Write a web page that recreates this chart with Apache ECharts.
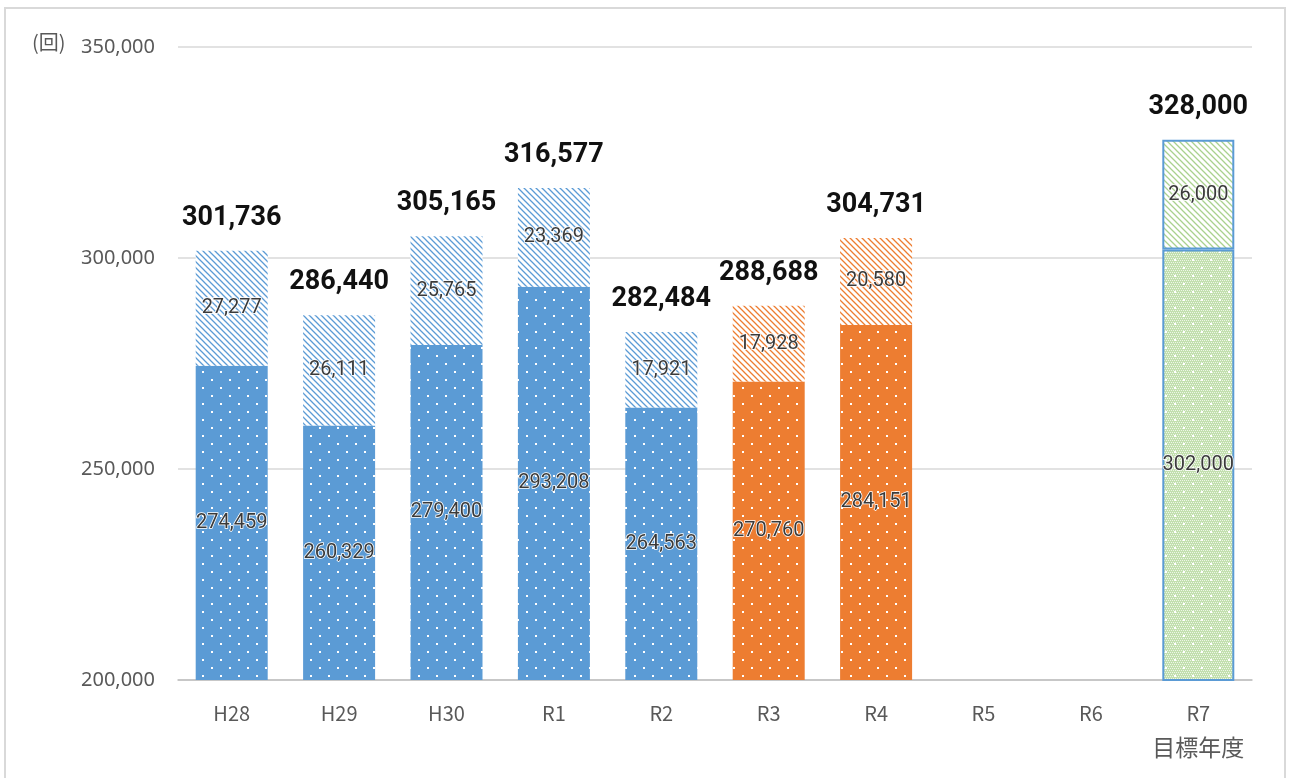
<!DOCTYPE html>
<html>
<head>
<meta charset="utf-8">
<script src="https://cdn.jsdelivr.net/npm/echarts@6/dist/echarts.min.js"></script>
<style>
html,body{margin:0;padding:0;background:#fff;}
#chart{width:1290px;height:778px;}
</style>
</head>
<body>
<div id="chart"></div>
<script>
const categories = ['H28', 'H29', 'H30', 'R1', 'R2', 'R3', 'R4', 'R5', 'R6', 'R7\n目標年度'];
const baseValues = [274459, 260329, 279400, 293208, 264563, 270760, 284151, null, null, 302000];
const extraValues = [27277, 26111, 25765, 23369, 17921, 17928, 20580, null, null, 26000];
const totalValues = [301736, 286440, 305165, 316577, 282484, 288688, 304731, null, null, 328000];

// 色分け：〜R2 青 / R3・R4 オレンジ / 目標 緑
const groupOf = ['b', 'b', 'b', 'b', 'b', 'o', 'o', null, null, 'g'];
const palette = {b: '#5B9BD5', o: '#ED7D31', g: '#C2DFAE'};
const hatchColor = {b: '#5B9BD5', o: '#ED7D31', g: '#A9D18E'};

function dotPattern(bg, fine) {
  const c = document.createElement('canvas');
  c.width = 18; c.height = 16;
  const g = c.getContext('2d');
  g.fillStyle = bg;
  g.fillRect(0, 0, 18, 16);
  if (fine) {
    g.fillStyle = 'rgba(255,255,255,0.7)';
    for (let y = 0; y < 16; y += 2) {
      for (let x = (y / 2) % 2; x < 18; x += 2) g.fillRect(x, y, 1, 1);
    }
  }
  g.fillStyle = '#fff';
  g.fillRect(4, 3, 2, 2);
  g.fillRect(13, 11, 2, 2);
  return {image: c, repeat: 'repeat'};
}

function hatchPattern(fg) {
  const s = 6;
  const c = document.createElement('canvas');
  c.width = s; c.height = s;
  const g = c.getContext('2d');
  g.fillStyle = '#fff';
  g.fillRect(0, 0, s, s);
  g.strokeStyle = fg;
  g.lineWidth = 1.3;
  g.beginPath();
  for (let k = -1; k <= 1; k++) {
    g.moveTo(k * s - 1, -1);
    g.lineTo(k * s + s + 1, s + 1);
  }
  g.stroke();
  return {image: c, repeat: 'repeat'};
}

function itemFor(v, i, top) {
  if (v == null) return null;
  const grp = groupOf[i];
  const isGoal = grp === 'g';
  return {
    value: v,
    itemStyle: {
      color: top ? hatchPattern(hatchColor[grp]) : dotPattern(palette[grp], isGoal),
      borderColor: isGoal ? '#5B9BD5' : 'transparent',
      borderWidth: isGoal ? 2 : 0
    }
  };
}

const fmt = v => v.toLocaleString('en-US');

const innerLabel = {
  show: true,
  position: 'inside',
  fontFamily: 'Roboto, sans-serif',
  fontSize: 20,
  color: '#3a3a3a',
  textBorderColor: '#fff',
  textBorderWidth: 1.5,
  formatter: p => fmt(p.value)
};

const chart = echarts.init(document.getElementById('chart'));
chart.setOption({
  animation: false,
  title: {
    text: '(回)',
    left: 27,
    top: 27,
    textStyle: {fontFamily: 'Noto Sans CJK JP', fontSize: 20, fontWeight: 'normal', color: '#595959'}
  },
  graphic: [{
    type: 'rect',
    shape: {x: 5, y: 8, width: 1280, height: 800},
    style: {fill: 'none', stroke: '#d9d9d9', lineWidth: 2},
    silent: true
  }],
  grid: {left: 178, right: 38, top: 47, bottom: 98},
  xAxis: {
    type: 'category',
    data: categories,
    axisLine: {lineStyle: {color: '#bfbfbf', width: 1.5}},
    axisTick: {show: false},
    axisLabel: {
      interval: 0,
      fontFamily: 'Noto Sans CJK JP',
      fontSize: 20,
      color: '#595959',
      lineHeight: 34,
      margin: 16,
      formatter: v => {
        const parts = v.split('\n');
        return parts.length > 1 ? parts[0] + '\n{cjk|' + parts[1] + '}' : v;
      },
      rich: {
        cjk: {fontFamily: 'Noto Sans CJK JP', fontSize: 23, color: '#595959', lineHeight: 34}
      }
    }
  },
  yAxis: {
    type: 'value',
    min: 200000,
    max: 350000,
    interval: 50000,
    axisLine: {show: false},
    axisTick: {show: false},
    splitLine: {lineStyle: {color: '#d9d9d9', width: 1.5}},
    axisLabel: {
      fontFamily: 'Noto Sans',
      fontSize: 20,
      color: '#595959',
      margin: 23,
      formatter: v => fmt(v)
    }
  },
  series: [
    {
      name: 'base',
      type: 'bar',
      stack: 'total',
      barWidth: 72,
      data: baseValues.map((v, i) => itemFor(v, i, false)),
      label: innerLabel
    },
    {
      name: 'extra',
      type: 'bar',
      stack: 'total',
      barWidth: 72,
      data: extraValues.map((v, i) => itemFor(v, i, true)),
      label: innerLabel
    },
    {
      name: 'sum',
      type: 'bar',
      stack: 'total',
      barWidth: 72,
      data: totalValues.map(v => v == null ? null : 0),
      itemStyle: {color: 'transparent'},
      label: {
        show: true,
        position: 'top',
        distance: 19,
        fontFamily: 'Roboto, sans-serif',
        fontWeight: 'bold',
        fontSize: 27,
        color: '#111',
        formatter: p => fmt(totalValues[p.dataIndex])
      }
    }
  ]
});
</script>
</body>
</html>
